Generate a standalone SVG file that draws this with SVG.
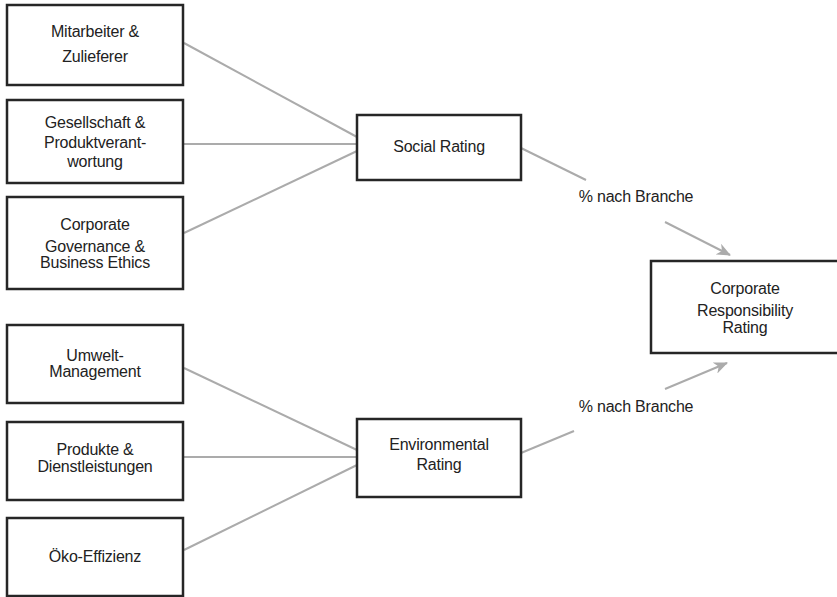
<svg xmlns="http://www.w3.org/2000/svg" width="837" height="597" viewBox="0 0 837 597">
<style>
.box{fill:#fff;stroke:#262626;stroke-width:2.5}
.t{font-family:"Liberation Sans",Arial,sans-serif;font-size:16px;fill:#222;text-anchor:middle;letter-spacing:-0.2px}
.c{stroke:#ababab;stroke-width:2;fill:none}
</style>
<defs>
<marker id="ah" viewBox="0 0 14 12" refX="13" refY="6" markerWidth="14" markerHeight="12" markerUnits="userSpaceOnUse" orient="auto">
<path d="M0,0 L14,6 L0,12 L4,6 Z" fill="#ababab"/>
</marker>
</defs>
<rect width="837" height="597" fill="#fff"/>
<g id="connectors">
<line class="c" x1="184" y1="43" x2="357" y2="137"/>
<line class="c" x1="184" y1="144" x2="357" y2="144"/>
<line class="c" x1="184" y1="233" x2="357" y2="151"/>
<line class="c" x1="184" y1="368" x2="357" y2="450"/>
<line class="c" x1="184" y1="457" x2="357" y2="457"/>
<line class="c" x1="184" y1="550" x2="357" y2="465"/>
<line class="c" x1="521" y1="148" x2="586" y2="180"/>
<line class="c" x1="665" y1="222" x2="730" y2="255" marker-end="url(#ah)"/>
<line class="c" x1="521" y1="453" x2="574" y2="431"/>
<line class="c" x1="665" y1="389" x2="727" y2="363" marker-end="url(#ah)"/>
<text class="t" x="636" y="202">% nach Branche</text>
<text class="t" x="636" y="412">% nach Branche</text>
</g>
<g id="n1"><rect class="box" x="7" y="5" width="176" height="80"/>
<text class="t" x="95" y="37">Mitarbeiter &amp;</text><text class="t" x="95" y="62">Zulieferer</text></g>
<g id="n2"><rect class="box" x="7" y="100" width="176" height="83"/>
<text class="t" x="95" y="128">Gesellschaft &amp;</text><text class="t" x="95" y="148">Produktverant-</text><text class="t" x="95" y="167">wortung</text></g>
<g id="n3"><rect class="box" x="7" y="197" width="176" height="92"/>
<text class="t" x="95" y="230">Corporate</text><text class="t" x="95" y="252">Governance &amp;</text><text class="t" x="95" y="268">Business Ethics</text></g>
<g id="n4"><rect class="box" x="7" y="325" width="176" height="78"/>
<text class="t" x="95" y="361">Umwelt-</text><text class="t" x="95" y="377">Management</text></g>
<g id="n5"><rect class="box" x="7" y="422" width="176" height="78"/>
<text class="t" x="95" y="455">Produkte &amp;</text><text class="t" x="95" y="472">Dienstleistungen</text></g>
<g id="n6"><rect class="box" x="7" y="518" width="176" height="78"/>
<text class="t" x="95" y="562">Öko-Effizienz</text></g>
<g id="social"><rect class="box" x="357" y="115" width="164" height="65"/>
<text class="t" x="439" y="152">Social Rating</text></g>
<g id="env"><rect class="box" x="357" y="419" width="164" height="78"/>
<text class="t" x="439" y="450">Environmental</text><text class="t" x="439" y="470">Rating</text></g>
<g id="cr"><rect class="box" x="651" y="261" width="190" height="92"/>
<text class="t" x="745" y="294">Corporate</text><text class="t" x="745" y="316">Responsibility</text><text class="t" x="745" y="333">Rating</text></g>
</svg>
